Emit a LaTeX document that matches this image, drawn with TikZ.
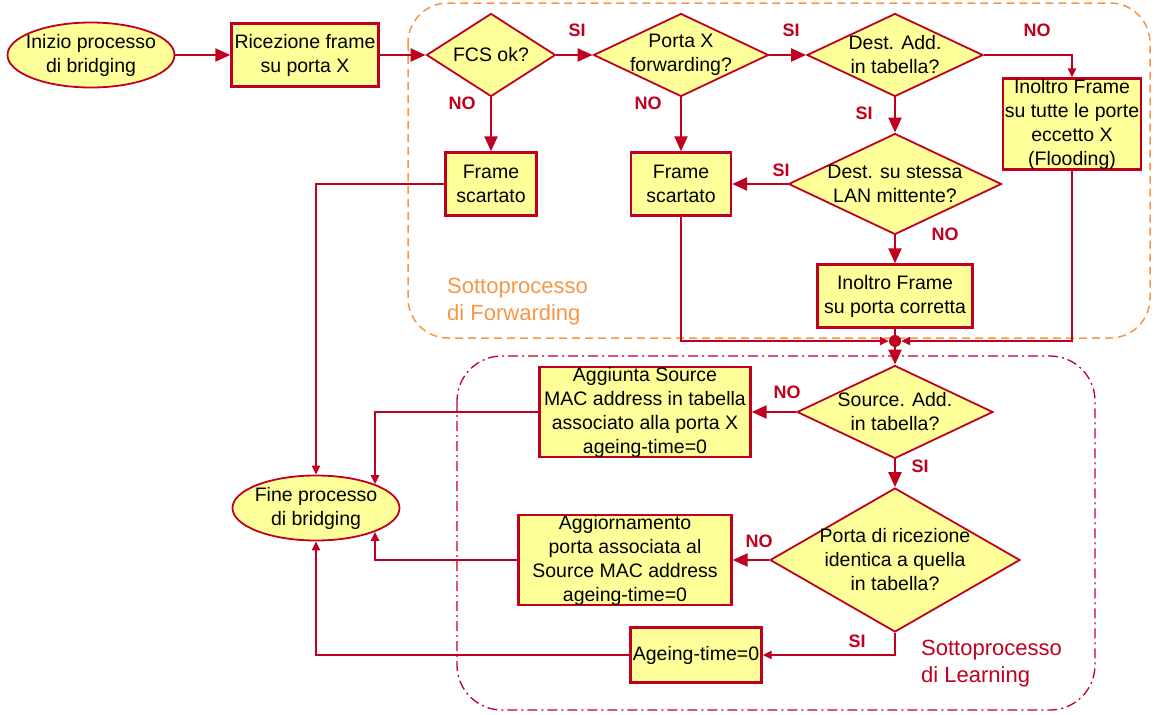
\documentclass[tikz,border=0pt]{standalone}
\usepackage{fontspec}
\setmainfont{Liberation Sans}
\usetikzlibrary{shapes.geometric}
\usetikzlibrary{arrows.meta}

\definecolor{bordo}{RGB}{192,0,32}
\definecolor{giallo}{RGB}{255,255,153}
\definecolor{arancio}{RGB}{247,150,70}
\newcommand\testo{\fontsize{19.5}{24}\selectfont}
\newcommand\esitofont{\fontsize{18}{20}\selectfont\bfseries}
\newcommand\grande{\fontsize{22}{27}\selectfont}

\begin{document}
\begin{tikzpicture}[x=1pt,y=-1pt,
  blocco/.style={rectangle,draw=bordo,fill=giallo,line width=2.4pt,inner sep=0pt,align=center,font=\testo},
  rombo/.style={diamond,draw=bordo,fill=giallo,line width=1.8pt,inner sep=0pt},
  ovale/.style={ellipse,draw=bordo,fill=giallo,line width=1.8pt,inner sep=0pt,minimum width=167pt,minimum height=65pt},
  scritta/.style={align=center,font=\testo,inner sep=0pt},
  esito/.style={text=bordo,font=\esitofont,inner sep=0pt},
  freccia/.style={draw=bordo,line width=2.3pt,-{Triangle[length=15pt,width=13pt]}},
  frecciap/.style={draw=bordo,line width=2.3pt,-{Triangle[length=9pt,width=8pt]}},
  linea/.style={draw=bordo,line width=2.3pt}]
\useasboundingbox (0,0) rectangle (1157,715);

\draw [arancio,line width=1.5pt,dash pattern=on 8pt off 5pt,rounded corners=40pt] (408,3) rectangle (1150,338);
\draw [bordo,line width=1.3pt,dash pattern=on 10pt off 4pt on 2pt off 4pt,rounded corners=45pt] (457,356) rectangle (1095,710);

\node[ovale,label={[scritta]center:Inizio processo\\di bridging}] (inizio) at (91,55) {};
\node[blocco,minimum width=147pt,minimum height=63pt] (ricez) at (305,55) {Ricezione frame\\su porta X};
\node[rombo,minimum width=129pt,minimum height=83pt,label={[scritta]center:FCS ok?}] (fcs) at (491,55) {};
\node[rombo,minimum width=175pt,minimum height=83pt,label={[scritta]center:Porta X\\forwarding?}] (portax) at (681,55) {};
\node[rombo,minimum width=176pt,minimum height=83pt,label={[scritta]center:Dest. Add.\\in tabella?}] (destadd) at (895,55) {};
\node[blocco,minimum width=138pt,minimum height=91pt] (flood) at (1072,124) {Inoltro Frame\\su tutte le porte\\eccetto X\\(Flooding)};
\node[blocco,minimum width=91pt,minimum height=63pt] (scart1) at (491,184) {Frame\\scartato};
\node[blocco,minimum width=100pt,minimum height=63pt] (scart2) at (681,184) {Frame\\scartato};
\node[rombo,minimum width=213pt,minimum height=101pt,label={[scritta]center:Dest. su stessa\\LAN mittente?}] (stessalan) at (895,184) {};
\node[blocco,minimum width=155pt,minimum height=63pt] (corretta) at (895,296) {Inoltro Frame\\su porta corretta};
\node[circle,fill=bordo,inner sep=0pt,minimum size=12pt] (giunz) at (895,341) {};
\node[rombo,minimum width=196pt,minimum height=93pt,label={[scritta]center:Source. Add.\\in tabella?}] (srcadd) at (895,412) {};
\node[blocco,minimum width=211pt,minimum height=89pt] (aggiunta) at (645,412) {Aggiunta Source\\MAC address in tabella\\associato alla porta X\\ageing-time=0};
\node[rombo,minimum width=250pt,minimum height=144pt,label={[scritta]center:Porta di ricezione\\identica a quella\\in tabella?}] (stessaporta) at (895,560) {};
\node[blocco,minimum width=213pt,minimum height=90pt] (aggiorn) at (625,560) {Aggiornamento\\porta associata al\\Source MAC address\\ageing-time=0};
\node[blocco,minimum width=131pt,minimum height=55pt] (ageing) at (696,655) {Ageing-time=0};
\node[ovale,label={[scritta]center:Fine processo\\di bridging}] (fine) at (316,508) {};

\draw[freccia] (inizio) -- (ricez);
\draw[freccia] (ricez) -- (fcs);
\draw[freccia] (fcs) -- (portax);
\draw[freccia] (portax) -- (destadd);
\draw[frecciap] (destadd.east) -| (flood.north);
\draw[freccia] (fcs) -- (scart1);
\draw[freccia] (portax) -- (scart2);
\draw[freccia] (destadd) -- (stessalan);
\draw[freccia] (stessalan) -- (scart2);
\draw[freccia] (stessalan) -- (corretta);
\draw[linea] (corretta) -- (giunz);
\draw[frecciap] (scart2.south) |- (giunz);
\draw[frecciap] (flood.south) |- (giunz);
\draw[freccia] (giunz) -- (srcadd);
\draw[freccia] (srcadd) -- (aggiunta);
\draw[freccia] (srcadd) -- (stessaporta);
\draw[freccia] (stessaporta) -- (aggiorn);
\draw[frecciap] (stessaporta.south) |- (ageing);
\draw[frecciap] (ageing) -| (fine);
\draw[frecciap] (scart1) -| (fine);
\draw[frecciap] (aggiunta) -| (fine.22);
\draw[frecciap] (aggiorn) -| (fine.-22);

\node[esito] (si1) at (577,30) {SI};
\node[esito] (si2) at (791,30) {SI};
\node[esito] (no1) at (1037,30) {NO};
\node[esito] (no2) at (462,103) {NO};
\node[esito] (no3) at (648,103) {NO};
\node[esito] (si3) at (864,113) {SI};
\node[esito] (si4) at (781,170) {SI};
\node[esito] (no4) at (945,234) {NO};
\node[esito] (no5) at (787,392) {NO};
\node[esito] (si5) at (920,466) {SI};
\node[esito] (no6) at (759,541) {NO};
\node[esito] (si6) at (857,641) {SI};

\node[anchor=west,text=arancio,font=\grande,align=left,inner sep=0pt] (fwd) at (447,302) {Sottoprocesso\\di Forwarding};
\node[anchor=west,text=bordo,font=\grande,align=left,inner sep=0pt] (lrn) at (921,664) {Sottoprocesso\\di Learning};
\end{tikzpicture}
\end{document}
